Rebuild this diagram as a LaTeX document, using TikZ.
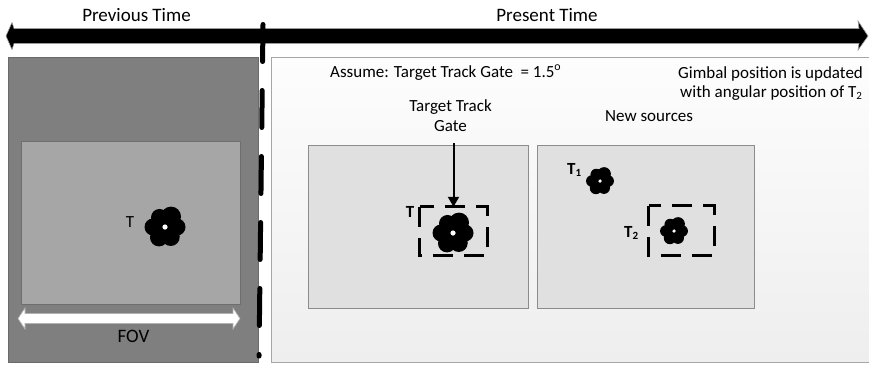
\documentclass[tikz,border=0pt]{standalone}
\usepackage{fontspec}
\setmainfont{Carlito}
\usetikzlibrary{arrows.meta}

\definecolor{darkpanel}{HTML}{7F7F7F}
\definecolor{darkedge}{HTML}{6A6A6A}
\definecolor{fovfill}{HTML}{A6A6A6}
\definecolor{fovedge}{HTML}{6E6E6E}
\definecolor{framefill}{HTML}{E0E0E0}
\definecolor{frameedge}{HTML}{8C8C8C}
\definecolor{paneledge}{HTML}{A6A6A6}
\definecolor{paneltop}{HTML}{FDFDFD}
\definecolor{panelbot}{HTML}{EEEEEE}
\definecolor{arrowedge}{HTML}{9A9A9A}

% small lowered index, as in T1 and T2
\newcommand\idx[1]{\raisebox{-0.35ex}{\fontsize{11}{11}\selectfont #1}}

\tikzset{
  bigtxt/.style={font=\fontsize{19}{22}\selectfont, inner sep=0pt},
  txt/.style={font=\fontsize{17}{20}\selectfont, inner sep=0pt},
  boldtxt/.style={font=\fontsize{17}{20}\selectfont\bfseries, inner sep=0pt},
  panelbox/.style={draw, line width=1pt, inner sep=0pt, anchor=north west},
  gatespot/.style={draw=none, inner sep=0pt},
  gateline/.style={line width=2.8pt, dash pattern=on 20pt off 11pt},
  blob/.pic={
    \fill[black] (0,0) circle[radius=10];
    \foreach \a/\d/\r in {-60/12/10, 0/12/8.5, 60/11.5/9, 120/12/9, 180/12/8.5, 240/11/8.5}
      \fill[black] (\a:\d) circle[radius=\r];
    \fill[white] (0,0) circle[radius=2.6];
  }
}

\begin{document}
\begin{tikzpicture}[x=1pt,y=-1pt]
\useasboundingbox (0,0) rectangle (869,368);
\fill[white] (0,0) rectangle (869,368);

% timeline labels
\node[bigtxt, anchor=base] (prevlbl) at (136.5,21.5) {Previous Time};
\node[bigtxt, anchor=base] (preslbl) at (547,21) {Present Time};

% timeline arrow, pointing both ways
\filldraw[fill=black, draw=arrowedge, line width=0.6pt]
  (6,36) -- (12,22.5) -- (14,28.5) -- (859,28.5) -- (858,21) -- (868,36)
  -- (858,50) -- (859,43.5) -- (14,43.5) -- (12,49.5) -- cycle;

% previous-time panel with the field of view
\node[panelbox, fill=darkpanel, draw=darkedge, minimum width=250pt, minimum height=305pt]
  (prev) at (8,57) {};
\node[panelbox, fill=fovfill, draw=fovedge, minimum width=219pt, minimum height=163pt]
  (fov) at (21,141) {};
\filldraw[fill=white, draw=gray!60, line width=0.6pt]
  (18,318.5) -- (25,308) -- (25,313.5) -- (233,313.5) -- (233,308) -- (240,318.5)
  -- (233,329) -- (233,323.5) -- (25,323.5) -- (25,329) -- cycle;
\node[bigtxt, anchor=base] (fovlbl) at (133.5,342.5) {FOV};
\node[txt, anchor=base] (tprev) at (130,227.5) {T};
\pic at (165,227) {blob};

% present-time panel
\node[panelbox, top color=paneltop, bottom color=panelbot, draw=paneledge,
  minimum width=600pt, minimum height=305pt] (pres) at (271,57) {};

% divider between the two times
\draw[line width=5pt, line cap=round, dash pattern=on 37pt off 29pt]
  (263,24.5) -- (259,356);

% notes
\node[txt, anchor=base west] (assume) at (330,77)
  {Assume: Target Track Gate\ \ = 1.5\textsuperscript{o}};
\node[txt, anchor=base west] (gimbal1) at (678,78.5) {Gimbal position is updated};
\node[txt, anchor=base west] (gimbal2) at (680,97) {with angular position of T\idx{2}};
\node[txt, anchor=base] (ttg1) at (450.5,111.5) {Target Track};
\node[txt, anchor=base] (ttg2) at (450.5,131.5) {Gate};
\node[txt, anchor=base west] (newsrc) at (605,121.5) {New sources};

% frame with the tracked target
\node[panelbox, fill=framefill, draw=frameedge, minimum width=220pt, minimum height=163pt]
  (frameA) at (308,145) {};
\node[gatespot, minimum width=67pt, minimum height=48pt] (gateA) at (453.5,231) {};
\draw[gateline] (gateA.north west) rectangle (gateA.south east);
\pic at (453,233) {blob};
\node[boldtxt, anchor=base] (tA) at (410,217) {T};
\coordinate (ttgfoot) at (453.5,143);
\draw[line width=2pt, -{Triangle[width=11pt,length=10pt]}] (ttgfoot) -- (gateA.north);

% frame with the new sources
\node[panelbox, fill=framefill, draw=frameedge, minimum width=217pt, minimum height=163pt]
  (frameB) at (537,145) {};
\node[gatespot, minimum width=65pt, minimum height=49pt] (gateB) at (681.5,230.5) {};
\draw[gateline] (gateB.north west) rectangle (gateB.south east);
\pic[scale=0.68] at (600,181) {blob};
\pic[scale=0.68] at (674,231) {blob};
\node[boldtxt, anchor=base west] (tone) at (567,174) {T\idx{1}};
\node[boldtxt, anchor=base west] (ttwo) at (624,237) {T\idx{2}};
\end{tikzpicture}
\end{document}
